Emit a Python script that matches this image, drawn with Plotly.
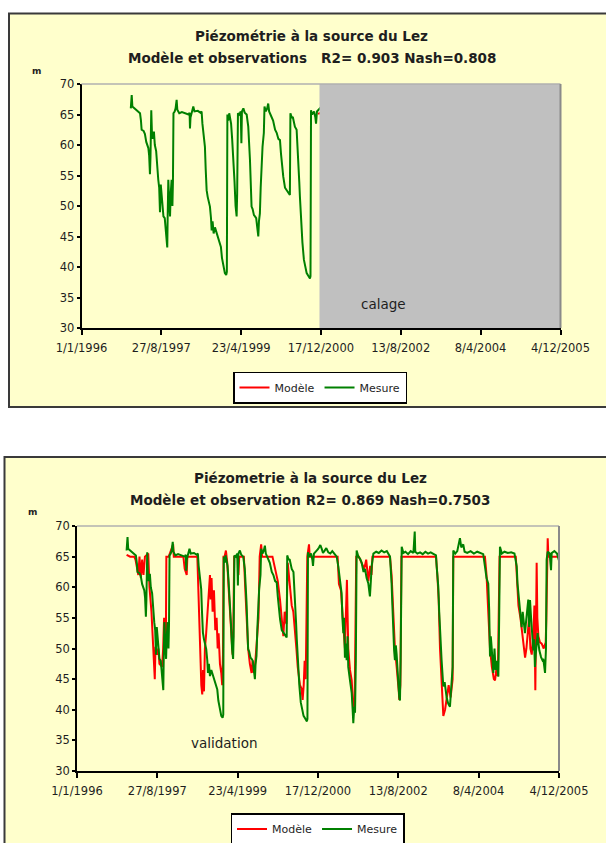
import pandas as pd
import plotly.graph_objects as go

# ---------------------------------------------------------------------------
# Données : jours comptés depuis le 1/1/1996, niveaux piézométriques en m
# ---------------------------------------------------------------------------
ORIGINE = "1996-01-01"

jours_mesure = [
    373, 380, 385, 400, 430, 443, 450, 455, 470, 480, 490, 500, 506, 512, 518, 522,
    528, 533, 540, 548, 555, 565, 575, 581, 588, 594, 600, 607, 615, 620, 630, 637,
    644, 649, 652, 657, 663, 670, 675, 682, 688, 692, 696, 705, 712, 720, 725, 740,
    760, 790, 810, 818, 821, 825, 835, 846, 855, 880, 900, 909, 915, 925, 934, 940,
    947, 955, 965, 972, 980, 985, 992, 1000, 1010, 1023, 1035, 1045, 1055, 1063, 1073, 1085,
    1095, 1100, 1104, 1110, 1118, 1125, 1132, 1140, 1149, 1158, 1166, 1174, 1178, 1184, 1195, 1205,
    1210, 1214, 1225, 1235, 1250, 1262, 1275, 1282, 1287, 1295, 1305, 1313, 1322, 1330, 1338, 1343,
    1350, 1356, 1363, 1370, 1380, 1385, 1395, 1405, 1413, 1420, 1430, 1439, 1450, 1465, 1477, 1490,
    1502, 1510, 1520, 1527, 1540, 1552, 1565, 1577, 1581, 1590, 1600, 1615, 1628, 1635, 1641, 1648,
    1653, 1660, 1666, 1672, 1683, 1695, 1704, 1715, 1729, 1733, 1737, 1745, 1760, 1770, 1775, 1782,
    1792, 1800, 1812, 1820, 1830, 1840, 1850, 1860, 1875, 1890, 1905, 1920, 1940, 1953, 1965, 1978,
    1990, 1996, 2003, 2008, 2015, 2022, 2028, 2035, 2040, 2053, 2066, 2073, 2078, 2085, 2091, 2097,
    2103, 2116, 2130, 2141, 2155, 2166, 2178, 2191, 2203, 2210, 2216, 2229, 2250, 2270, 2290, 2310,
    2330, 2354, 2360, 2366, 2372, 2379, 2385, 2391, 2398, 2404, 2410, 2417, 2424, 2429, 2434, 2442,
    2455, 2470, 2490, 2510, 2530, 2540, 2544, 2560, 2580, 2600, 2620, 2640, 2660, 2680, 2700, 2705,
    2717, 2724, 2730, 2742, 2755, 2765, 2780, 2792, 2805, 2812, 2818, 2825, 2830, 2845, 2860, 2880,
    2890, 2905, 2915, 2935, 2960, 2985, 3010, 3035, 3055, 3068, 3080, 3093, 3100, 3106, 3112, 3118,
    3125, 3131, 3140, 3148, 3156, 3163, 3169, 3175, 3181, 3195, 3215, 3240, 3265, 3290, 3307, 3313,
    3319, 3330, 3344, 3352, 3360, 3369, 3380, 3394, 3400, 3407, 3415, 3425, 3432, 3438, 3444, 3450,
    3457, 3464, 3470, 3477, 3490, 3500, 3507, 3513, 3520, 3527, 3532, 3540, 3555, 3565, 3570, 3590,
    3610, 3624,
]
niveau_mesure = [
    66.0, 68.2, 66.3, 66.0, 65.3, 65.2, 64.0, 62.5, 62.3, 61.8, 60.5, 60.0, 59.5, 58.3, 55.2, 58.0,
    65.7, 62.0, 61.0, 62.2, 60.0, 59.0, 55.5, 54.3, 53.0, 49.0, 53.5, 51.0, 49.0, 48.3, 48.0, 46.0,
    43.3, 43.2, 48.0, 54.3, 51.0, 48.3, 52.0, 54.3, 50.0, 54.0, 65.2, 65.5, 66.0, 67.4, 65.8, 65.2,
    65.4, 65.2, 65.0, 65.3, 62.7, 64.5, 65.5, 66.3, 65.5, 65.6, 65.3, 65.5, 63.5, 61.0, 59.7, 56.0,
    52.6, 51.5, 50.5, 49.9, 48.0, 46.0, 47.5, 45.5, 46.5, 45.5, 45.0, 44.0, 43.3, 41.5, 40.0, 39.0,
    38.7, 39.2, 65.0, 64.0, 65.2, 64.5, 63.5, 61.0, 58.1, 54.0, 50.0, 48.3, 52.0, 65.2, 65.0, 65.5,
    60.3, 65.5, 66.0, 65.3, 65.0, 63.0, 57.5, 53.0, 49.9, 49.5, 48.5, 48.3, 48.0, 46.5, 45.0, 47.5,
    48.8, 53.0, 57.5, 59.7, 62.0, 66.3, 65.5, 66.0, 66.8, 65.5, 65.0, 64.6, 64.0, 62.5, 62.0, 61.0,
    60.8, 58.5, 56.0, 54.8, 53.0, 52.6, 52.0, 51.8, 65.2, 64.6, 64.5, 63.0, 62.5, 60.0, 57.0, 54.0,
    51.5, 48.0, 45.5, 44.0, 41.2, 40.0, 39.0, 38.6, 38.1, 38.5, 65.7, 65.0, 65.5, 64.5, 63.5, 65.5,
    65.7, 65.8, 66.2, 66.5, 66.9, 66.3, 65.6, 65.9, 66.4, 65.7, 65.5, 65.9, 65.3, 65.0, 63.4, 60.6,
    59.0, 55.0, 52.5, 55.0, 48.5, 50.8, 48.1, 52.0, 47.0, 44.8, 42.7, 40.0, 37.8, 40.5, 39.5, 48.0,
    66.0, 65.0, 64.6, 64.0, 62.5, 63.0, 61.5, 60.6, 58.5, 61.0, 63.4, 65.5, 65.8, 65.6, 66.0, 65.7,
    65.9, 65.0, 63.0, 60.6, 57.0, 52.0, 49.7, 48.1, 50.5, 49.0, 46.0, 44.3, 42.0, 41.5, 48.0, 66.6,
    65.6, 65.8, 65.4, 65.9, 65.6, 69.1, 65.8, 65.5, 65.7, 65.4, 65.8, 65.5, 65.7, 65.4, 65.2, 63.4,
    60.1, 56.0, 52.5, 48.1, 43.8, 44.5, 42.0, 41.0, 40.5, 43.0, 44.8, 47.0, 66.0, 65.5, 65.9, 68.0,
    66.5, 67.0, 65.8, 65.6, 65.9, 65.5, 65.8, 65.6, 65.4, 63.4, 61.5, 60.6, 56.3, 48.7, 52.0, 50.3,
    47.5, 46.0, 50.0, 46.5, 48.0, 46.0, 45.4, 55.0, 66.6, 65.5, 65.8, 65.6, 65.7, 65.5, 63.4, 60.6,
    59.0, 57.5, 53.5, 56.0, 54.0, 52.5, 55.0, 58.0, 53.5, 57.9, 55.0, 52.5, 49.7, 51.5, 47.0, 49.0,
    50.8, 52.5, 51.0, 49.7, 48.6, 48.1, 48.3, 47.0, 46.0, 50.0, 64.5, 65.8, 65.5, 62.8, 65.6, 65.9,
    65.5, 64.4,
]

# Modèle de la période de validation
jours_modele = [
    373, 400, 430, 440, 461, 470, 480, 490, 500, 511, 536, 545, 560, 572, 580, 585,
    590, 600, 612, 620, 640, 648, 655, 668, 672, 690, 723, 728, 800, 810, 825, 830,
    905, 912, 920, 928, 935, 942, 948, 955, 962, 970, 980, 990, 1000, 1005, 1012, 1020,
    1030, 1040, 1050, 1058, 1065, 1075, 1085, 1092, 1098, 1102, 1110, 1120, 1130, 1140, 1150, 1160,
    1170, 1175, 1182, 1210, 1214, 1220, 1255, 1265, 1275, 1287, 1300, 1313, 1320, 1330, 1340, 1350,
    1365, 1374, 1385, 1392, 1470, 1490, 1510, 1527, 1540, 1552, 1562, 1575, 1585, 1595, 1605, 1615,
    1627, 1640, 1650, 1660, 1670, 1677, 1688, 1697, 1705, 1712, 1720, 1732, 1745, 1750, 1960, 1970,
    1985, 1997, 2015, 2030, 2040, 2053, 2066, 2078, 2088, 2100, 2120, 2140, 2160, 2175, 2191, 2205,
    2215, 2222, 2354, 2366, 2379, 2391, 2404, 2412, 2420, 2424, 2432, 2440, 2700, 2710, 2720, 2730,
    2742, 2748, 2755, 2768, 2780, 2795, 2810, 2825, 2830, 3068, 3080, 3095, 3106, 3120, 3135, 3144,
    3156, 3165, 3178, 3300, 3310, 3320, 3335, 3345, 3360, 3370, 3380, 3390, 3400, 3410, 3420, 3432,
    3440, 3447, 3452, 3457, 3462, 3470, 3482, 3495, 3510, 3525, 3530, 3540, 3545, 3624,
]
niveau_modele = [
    65.3, 65.0, 65.0, 64.5, 62.0, 65.0, 61.5, 64.5, 62.0, 65.0, 65.5, 60.0, 56.0, 51.0, 48.0, 45.0,
    50.3, 49.0, 50.0, 47.5, 47.0, 50.0, 55.0, 50.0, 65.0, 65.0, 67.0, 65.0, 65.0, 63.0, 62.0, 65.0,
    65.0, 60.0, 55.0, 48.0, 44.0, 42.5, 46.5, 43.0, 50.0, 52.0, 56.0, 58.5, 62.0, 58.0, 61.5, 56.0,
    59.5, 53.0, 55.0, 50.0, 52.5, 47.5, 46.0, 44.0, 49.0, 65.0, 65.0, 66.0, 64.0, 60.0, 56.0, 52.0,
    49.0, 52.0, 65.0, 65.0, 62.0, 65.0, 65.0, 60.0, 55.0, 50.0, 47.5, 46.0, 48.0, 46.0, 47.5, 50.0,
    55.0, 65.0, 67.0, 65.0, 65.0, 63.0, 61.0, 57.9, 54.0, 52.0, 56.0, 54.0, 64.0, 62.0, 60.0, 57.0,
    56.0, 53.0, 50.0, 47.0, 45.0, 44.0, 43.5, 41.6, 44.0, 48.0, 45.0, 65.0, 67.0, 65.0, 65.0, 60.5,
    59.5, 55.7, 50.0, 61.2, 50.0, 46.5, 44.8, 40.0, 41.0, 65.0, 65.0, 64.0, 63.0, 64.5, 61.0, 63.5,
    62.0, 65.0, 65.0, 62.0, 55.0, 50.0, 47.0, 44.0, 43.0, 41.6, 44.0, 65.0, 65.0, 62.0, 58.0, 50.0,
    45.0, 41.0, 39.0, 40.0, 42.0, 44.0, 42.0, 45.0, 65.0, 65.0, 62.0, 56.0, 50.0, 47.0, 45.0, 44.8,
    47.0, 45.5, 65.0, 65.0, 61.0, 57.0, 55.0, 53.0, 50.0, 48.5, 50.0, 52.0, 55.0, 50.0, 49.0, 52.0,
    57.0, 43.2, 52.0, 64.0, 55.0, 52.0, 51.0, 50.8, 50.0, 51.0, 55.0, 68.0, 65.0, 65.0,
]

# Modèle de la période de calage (tracé sous la zone grisée)
jours_modele_calage = [1790, 1801, 3624]
niveau_modele_calage = [65.1, 65.2, 65.2]

# Zone grisée (période masquée du premier graphique)
zone_grisee = ["2000-12-06", "2005-12-04"]

# Axe des dates
dates_graduations = ["1996-01-01", "1997-08-27", "1999-04-23", "2000-12-17",
                     "2002-08-13", "2004-04-08", "2005-12-04"]
libelles_graduations = ["1/1/1996", "27/8/1997", "23/4/1999", "17/12/2000",
                        "13/8/2002", "8/4/2004", "4/12/2005"]
valeurs_y = [30, 35, 40, 45, 50, 55, 60, 65, 70]

titres = [
    ("Piézométrie à la source du Lez",
     "Modèle et observations   R2= 0.903 Nash=0.808"),
    ("Piézometrie à la source du Lez",
     "Modèle et observation R2= 0.869 Nash=0.7503"),
]


def en_dates(jours):
    return pd.Timestamp(ORIGINE) + pd.to_timedelta(jours, unit="D")


W, H = 606, 843
ROUGE, VERT = "#FF0000", "#008000"
POLICE = "DejaVu Sans"
TEXTE = "#1e1e1e"


def px(x):
    return x / W


def py(y):
    return 1 - y / H


fig = go.Figure()

# Premier graphique : calage
fig.add_trace(go.Scatter(x=en_dates(jours_modele_calage), y=niveau_modele_calage,
                         mode="lines", name="Modèle", line=dict(color=ROUGE, width=2),
                         xaxis="x", yaxis="y", legend="legend"))
fig.add_trace(go.Scatter(x=en_dates(jours_mesure), y=niveau_mesure,
                         mode="lines", name="Mesure", line=dict(color=VERT, width=2),
                         xaxis="x", yaxis="y", legend="legend"))

# Second graphique : validation
fig.add_trace(go.Scatter(x=en_dates(jours_modele), y=niveau_modele,
                         mode="lines", name="Modèle", line=dict(color=ROUGE, width=2),
                         xaxis="x2", yaxis="y2", legend="legend2"))
fig.add_trace(go.Scatter(x=en_dates(jours_mesure), y=niveau_mesure,
                         mode="lines", name="Mesure", line=dict(color=VERT, width=2),
                         xaxis="x2", yaxis="y2", legend="legend2"))

# Zones des deux graphiques (pixels)
zones = [
    dict(cadre=(9, 13.5, 640, 407), trace=(81.5, 84, 560.5, 328)),
    dict(cadre=(4.5, 457, 640, 900), trace=(77, 526, 559, 771)),
]

axe_x = dict(type="date", range=[dates_graduations[0], dates_graduations[-1]],
             tickmode="array", tickvals=dates_graduations, ticktext=libelles_graduations,
             ticks="outside", ticklen=5, tickwidth=1.5, tickcolor="black",
             ticklabelstandoff=3,
             showline=True, linecolor="black", linewidth=1.5, showgrid=False, zeroline=False,
             automargin=False,
             tickfont=dict(family=POLICE, size=11.5, color=TEXTE))
axe_y = dict(range=[30, 70], tickmode="array", tickvals=valeurs_y,
             ticks="outside", ticklen=3, tickwidth=1.5, tickcolor="black",
             showline=True, linecolor="black", linewidth=1.5, showgrid=False, zeroline=False,
             automargin=False,
             tickfont=dict(family=POLICE, size=11.5, color=TEXTE))

z1, z2 = zones[0]["trace"], zones[1]["trace"]
fig.update_layout(
    xaxis=dict(axe_x, domain=[px(z1[0]), px(z1[2])], anchor="y"),
    yaxis=dict(axe_y, domain=[py(z1[3]), py(z1[1])], anchor="x"),
    xaxis2=dict(axe_x, domain=[px(z2[0]), px(z2[2])], anchor="y2"),
    yaxis2=dict(axe_y, domain=[py(z2[3]), py(z2[1])], anchor="x2"),
)

formes = []
for z in zones:
    x0, y0, x1, y1 = z["cadre"]
    formes.append(dict(type="rect", xref="paper", yref="paper", layer="below",
                       x0=px(x0), x1=px(x1), y0=py(y1), y1=py(y0),
                       fillcolor="#FFFFCC", line=dict(color="#3a3a3a", width=2)))

# Zone grisée du premier graphique
formes.append(dict(type="rect", xref="x", yref="y", layer="above",
                   x0=zone_grisee[0], x1=zone_grisee[1], y0=30, y1=70,
                   fillcolor="#C0C0C0", line=dict(width=0)))

# Bordure grise (haut et droite) de chaque zone de tracé
for ax in ("", "2"):
    formes.append(dict(type="line", xref=f"x{ax} domain", yref=f"y{ax} domain", layer="above",
                       x0=0, x1=1, y0=1, y1=1, line=dict(color="#b0b0b0", width=1.5)))
    formes.append(dict(type="line", xref=f"x{ax} domain", yref=f"y{ax} domain", layer="above",
                       x0=1, x1=1, y0=0, y1=1, line=dict(color="#8a8a8a", width=2)))

annotations = []
centres_titres = [(311.5, 36, 58), (310, 478, 500)]
for (l1, l2), (cx, y1, y2) in zip(titres, centres_titres):
    for texte, y in ((l1, y1), (l2, y2)):
        annotations.append(dict(text=f"<b>{texte}</b>", xref="paper", yref="paper",
                                x=px(cx), y=py(y), xanchor="center", yanchor="middle",
                                showarrow=False,
                                font=dict(family=POLICE, size=13.5, color=TEXTE)))
for x, y in ((36, 71), (32, 512)):
    annotations.append(dict(text="<b>m</b>", xref="paper", yref="paper",
                            x=px(x), y=py(y), xanchor="center", yanchor="middle",
                            showarrow=False, font=dict(family=POLICE, size=9, color=TEXTE)))
annotations.append(dict(text="calage", xref="paper", yref="paper", x=px(383), y=py(304),
                        xanchor="center", yanchor="middle", showarrow=False,
                        font=dict(family=POLICE, size=13.5, color=TEXTE)))
annotations.append(dict(text="validation", xref="paper", yref="paper", x=px(223.5), y=py(743),
                        xanchor="center", yanchor="middle", showarrow=False,
                        font=dict(family=POLICE, size=13.5, color=TEXTE)))

legende = dict(orientation="h", xanchor="center", yanchor="middle",
               bgcolor="white", bordercolor="black", borderwidth=1.5,
               font=dict(family=POLICE, size=11, color=TEXTE),
               itemwidth=30, tracegroupgap=0)

fig.update_layout(
    width=W, height=H, margin=dict(l=0, r=0, t=0, b=0, pad=0, autoexpand=False),
    paper_bgcolor="white", plot_bgcolor="white",
    shapes=formes, annotations=annotations, showlegend=True,
    legend=dict(legende, x=px(320), y=py(387.5)),
    legend2=dict(legende, x=px(317.5), y=py(829)),
)

fig.write_html("out.html")
